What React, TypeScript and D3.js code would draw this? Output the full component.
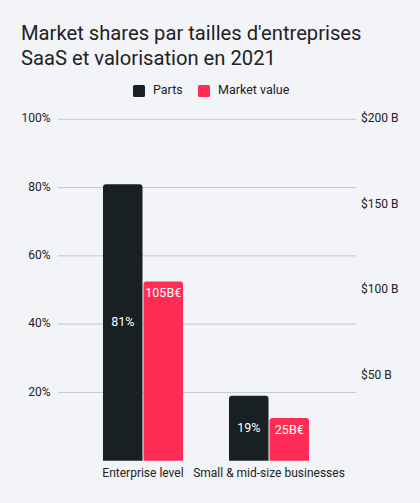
import * as d3 from 'd3';

const categories = ['Enterprise level', 'Small & mid-size businesses'];
const seriesNames = ['Parts', 'Market value'];
const partsValues = [81, 19];
const marketValues = [105, 25];
const leftTicks = [20, 40, 60, 80, 100];
const rightTicks = [50, 100, 150, 200];
const colors = ['#182024', '#ff2d55'];

const W = 420;
const H = 503;
const FONT = 'Roboto, sans-serif';

function roundedTopBar(x: number, y: number, w: number, h: number, r: number) {
  const rr = Math.min(r, h / 2, w / 2);
  return `M${x},${y + h}V${y + rr}Q${x},${y} ${x + rr},${y}H${x + w - rr}Q${x + w},${y} ${x + w},${y + rr}V${y + h}Z`;
}

export default function App() {
  const top = 119.3;
  const bottom = 460.7;
  const yLeft = d3.scaleLinear().domain([0, 100]).range([bottom, top]);
  const yRight = d3.scaleLinear().domain([0, 200]).range([bottom, top]);

  const x0 = d3.scaleBand().domain(categories).range([58, 354]).paddingInner(0.365).paddingOuter(0.357);
  const x1 = d3.scaleBand().domain(seriesNames).range([0, x0.bandwidth()]).paddingInner(0.025);

  const gridLeft = 58;
  const gridRight = 356;

  return (
    <svg
      width={W}
      height={H}
      style={{ position: 'absolute', left: 0, top: 0, background: '#f3f4f8', fontFamily: FONT }}
    >
      <rect width={W} height={H} fill="#f3f4f8" />
      <text x={21} y={39.5} fontSize={20.2} fill="#222">
        Market shares par tailles d'entreprises
      </text>
      <text x={21} y={64.5} fontSize={20.2} fill="#222">
        SaaS et valorisation en 2021
      </text>

      {/* legend */}
      <g fontSize={12.5} fill="#222">
        <rect x={133} y={85} width={12} height={12} rx={1.5} fill={colors[0]} />
        <text x={153} y={90.7} dominantBaseline="middle">{seriesNames[0]}</text>
        <rect x={198} y={85} width={12} height={12} rx={1.5} fill={colors[1]} />
        <text x={218} y={90.7} dominantBaseline="middle">{seriesNames[1]}</text>
      </g>

      {/* grid + left axis */}
      {leftTicks.map(t => (
        <g key={t}>
          <line x1={gridLeft} x2={gridRight} y1={yLeft(t)} y2={yLeft(t)} stroke="#c4c6cc" strokeWidth={1} />
          <text x={50.5} y={yLeft(t)} textAnchor="end" dominantBaseline="middle" fontSize={12} fill="#222">
            {t}%
          </text>
        </g>
      ))}

      {/* right axis */}
      {rightTicks.map(t => (
        <text key={t} x={361} y={yRight(t)} dominantBaseline="middle" fontSize={12} fill="#222">
          ${t} B
        </text>
      ))}

      {/* bars */}
      {categories.map((c, i) => {
        const gx = x0(c) || 0;
        const px = gx + (x1(seriesNames[0]) || 0);
        const mx = gx + (x1(seriesNames[1]) || 0);
        const bw = x1.bandwidth();
        const py = yLeft(partsValues[i]);
        const my = yRight(marketValues[i]);
        return (
          <g key={c}>
            <path d={roundedTopBar(px, py, bw, bottom - py, 3)} fill={colors[0]} />
            <path d={roundedTopBar(mx, my, bw, bottom - my, 3)} fill={colors[1]} />
            <text x={px + bw / 2} y={(py + bottom) / 2} textAnchor="middle" dominantBaseline="middle" fontSize={12.5} fill="#fff">
              {partsValues[i]}%
            </text>
            <text x={mx + bw / 2} y={my + 12.5} textAnchor="middle" dominantBaseline="middle" fontSize={12.5} fill="#fff">
              {marketValues[i]}B€
            </text>
            <text x={gx + x0.bandwidth() / 2} y={474} textAnchor="middle" dominantBaseline="middle" fontSize={12} fill="#222">
              {c}
            </text>
          </g>
        );
      })}
    </svg>
  );
}
